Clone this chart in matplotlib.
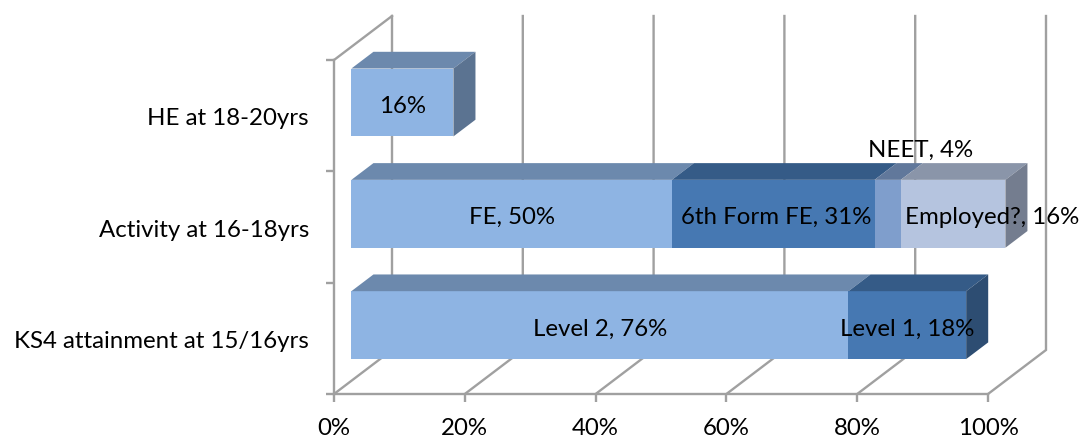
import matplotlib
matplotlib.use("Agg")
import matplotlib.pyplot as plt
from matplotlib.patches import Polygon

plt.rcParams['font.family'] = ['Lato', 'DejaVu Sans']

# categories bottom to top, one band each
categories = ["KS4 attainment at 15/16yrs", "Activity at 16-18yrs", "HE at 18-20yrs"]
x_ticks = [0, 20, 40, 60, 80, 100]

# stacked segments (percent as drawn)
ks4_values = [76, 18]
ks4_labels = ["Level 2, 76%", "Level 1, 18%"]
ks4_colors = ["#8EB4E3", "#4678B2"]

activity_values = [49, 31, 4, 16]
activity_labels = ["FE, 50%", "6th Form FE, 31%", "NEET, 4%", "Employed?, 16%"]
activity_colors = ["#8EB4E3", "#4678B2", "#7F9ECC", "#B5C4DF"]

he_values = [15.6]
he_labels = ["16%"]
he_colors = ["#8EB4E3"]

FONT = 17.3
GRID = "#A0A0A0"
# depth direction of the fake 3d box, in data units
DEPTH_X = 58 / 6.54
DEPTH_Y = 44 / 111.33
BAR_FRONT = 0.3
BAR_BACK = 0.68
BAR_H = 0.61


def project(x, y, d):
    return (x + d * DEPTH_X, y + d * DEPTH_Y)


def shade(color, f):
    r, g, b = matplotlib.colors.to_rgb(color)
    return (r * f, g * f, b * f)


def draw_walls(ax):
    # back wall verticals and floor diagonals
    for t in x_ticks:
        ax.plot(*zip(project(t, 0, 0), project(t, 0, 1), project(t, 3, 1)),
                color=GRID, lw=1.7, zorder=1, solid_joinstyle='miter')
    # left side wall top edge
    ax.plot(*zip(project(0, 3, 0), project(0, 3, 1)), color=GRID, lw=1.7, zorder=1)


def draw_stack(ax, row, values, labels, colors, offsets=None):
    y0 = row + 0.5 - BAR_H / 2
    y1 = y0 + BAR_H
    left = 0
    for i, (v, lab, c) in enumerate(zip(values, labels, colors)):
        right = left + v
        fx0, fy0 = project(left, y0, BAR_FRONT)
        fx1, fy1 = project(right, y1, BAR_FRONT)
        # front face
        ax.add_patch(Polygon([(fx0, fy0), (fx1, fy0), (fx1, fy1), (fx0, fy1)],
                             fc=c, ec='none', zorder=3))
        # top face
        ax.add_patch(Polygon([project(left, y1, BAR_FRONT), project(right, y1, BAR_FRONT),
                              project(right, y1, BAR_BACK), project(left, y1, BAR_BACK)],
                             fc=shade(c, 0.76), ec='none', zorder=3))
        if i == len(values) - 1:
            # side face of the last segment
            ax.add_patch(Polygon([project(right, y0, BAR_FRONT), project(right, y1, BAR_FRONT),
                                  project(right, y1, BAR_BACK), project(right, y0, BAR_BACK)],
                                 fc=shade(c, 0.64), ec='none', zorder=3))
        dx, dy = (0, -3)
        if offsets and offsets[i]:
            dx, dy = offsets[i]
        ax.annotate(lab, ((fx0 + fx1) / 2, (fy0 + fy1) / 2), xytext=(dx, dy),
                    textcoords='offset pixels', ha='center', va='center',
                    fontsize=FONT, color='black', zorder=5)
        left = right


fig = plt.figure(figsize=(10.82, 4.39), dpi=100)
ax = fig.add_axes([0, 0, 1, 1])
ax.set_xlim(-334 / 6.54, (1082 - 334) / 6.54)
ax.set_ylim(-44 / 111.33, 395 / 111.33)
ax.patch.set_visible(False)

for side in ['top', 'right']:
    ax.spines[side].set_visible(False)
ax.spines['left'].set_position(('data', 0))
ax.spines['bottom'].set_position(('data', 0))
ax.spines['left'].set_bounds(0, 3)
ax.spines['bottom'].set_bounds(0, 100)
for side in ['left', 'bottom']:
    ax.spines[side].set_color(GRID)
    ax.spines[side].set_linewidth(1.7)

ax.set_xticks(x_ticks)
ax.set_xticklabels([f"{t}%" for t in x_ticks], fontsize=FONT)
ax.set_yticks([0, 1, 2, 3])
ax.set_yticklabels([])
ax.set_yticks([0.5, 1.5, 2.5], minor=True)
ax.set_yticklabels(categories, minor=True, fontsize=FONT)
ax.tick_params(axis='x', length=6, width=1.7, color=GRID, pad=10.5)
ax.tick_params(axis='y', which='major', length=6, width=1.7, color=GRID)
ax.tick_params(axis='y', which='minor', length=0, pad=18)

draw_walls(ax)
draw_stack(ax, 0, ks4_values, ks4_labels, ks4_colors)
draw_stack(ax, 1, activity_values, activity_labels, activity_colors,
           offsets=[(0, -3), (3, -3), (33, 64), (39, -3)])
draw_stack(ax, 2, he_values, he_labels, he_colors)

fig.savefig("out.png", dpi=100)
